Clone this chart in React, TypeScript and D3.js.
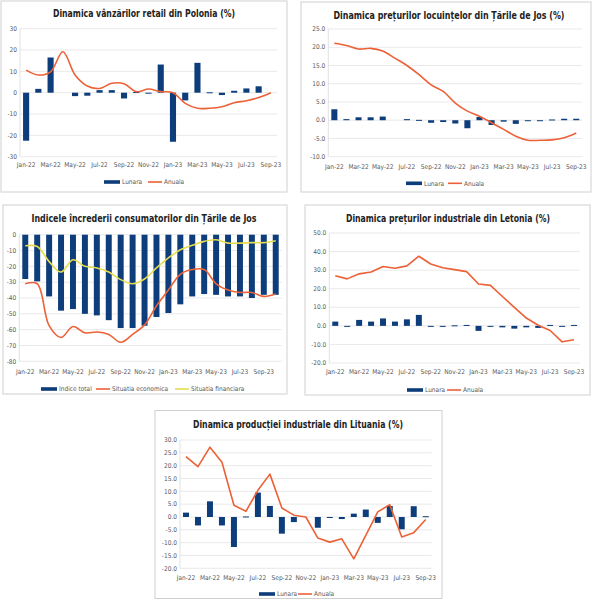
import React, { useEffect, useRef } from 'react';
import * as d3 from 'd3';

// categories
const months21 = ['Jan-22', 'Feb-22', 'Mar-22', 'Apr-22', 'May-22', 'Jun-22', 'Jul-22', 'Aug-22', 'Sep-22', 'Oct-22', 'Nov-22', 'Dec-22',
  'Jan-23', 'Feb-23', 'Mar-23', 'Apr-23', 'May-23', 'Jun-23', 'Jul-23', 'Aug-23', 'Sep-23'];
const months22 = [...months21, 'Oct-23'];

// Polonia - vanzari retail
const plLunara = [-22.5, 1.8, 16.5, 0, -1.6, -1.4, 1.2, 1.2, -2.7, 0.3, -0.3, 13.2, -23, -3.6, 14, 0.2, -1.1, 0.9, 2, 3, 0];
const plAnuala = [10.6, 8.3, 9.8, 19.2, 8.3, 3.1, 2, 4.4, 4.2, 0.5, 1.7, 0.5, 0, -5, -7.3, -7.3, -6.6, -4.7, -3.8, -2.3, 0];

// Tarile de Jos - preturi locuinte
const nlLunara = [3.0, 0.3, 0.8, 0.8, 1.0, 0, 0.3, 0.1, -0.7, -0.5, -0.9, -2.2, 0.9, -1.3, -0.4, -1.0, -0.1, -0.1, 0.2, 0.4, 0.4];
const nlAnuala = [21.1, 20.5, 19.5, 19.7, 19, 17, 15, 12.5, 9.7, 7.9, 4.7, 2.5, 1.1, -0.7, -2.5, -4.4, -5.5, -5.5, -5.4, -4.8, -3.5];

// Tarile de Jos - incredere consumatori
const ccTotal = [-28, -29.5, -39, -48, -47, -50, -51, -54, -59, -59, -57.5, -52, -49.5, -44, -39, -37.5, -38, -39, -39, -40, -38, -38];
const ccEconomica = [-31, -31, -57.5, -65, -58, -62, -61.5, -63, -68, -63, -57, -45, -35, -25, -22, -22, -31, -35, -36.5, -36.5, -39, -37.5];
const ccFinanciara = [-7, -7.5, -17, -23.6, -15.8, -20, -21, -23.6, -28.4, -31, -28, -21, -14.7, -9.5, -6.7, -4.2, -3.2, -5.3, -5.3, -5, -5, -3.8];

// Letonia - preturi industriale
const lvLunara = [2.3, -0.2, 3.2, 2.3, 4, 2.3, 3.5, 5.9, -0.1, -0.1, 0.3, 0.5, -2.7, -0.5, -0.8, -1.5, -0.8, -1.1, 0.5, -0.1, 0.5];
const lvAnuala = [27, 25.3, 28, 29, 32, 31, 32.3, 37.5, 33.3, 31.3, 30.3, 29.2, 22.5, 21.8, 15.8, 10, 4.2, 0.3, -2.5, -8.6, -7.5];

// Lituania - productie industriala
const ltLunara = [1.7, -3.3, 6.1, -3.3, -11.7, 0.2, 9.5, 4.3, -6.5, -2, 0, -4.2, -0.4, -0.8, 1.3, 2.9, -2.3, 4.3, -4.8, 4.2, 0.3];
const ltAnuala = [23.5, 19.6, 27.2, 21.3, 4.6, 2.2, 10.4, 16.7, 3.5, 0.7, 0, -8.2, -9.8, -8.5, -16.3, -7.2, 2, 4.8, -7.8, -6.1, -1];

const NAVY = '#0d3d7a';
const ORANGE = '#ec6136';
const YELLOW = '#e6dc4e';
const GRAY_TEXT = '#595959';
const NARROW = '"Liberation Sans Narrow", "DejaVu Sans Condensed", "Liberation Sans", Arial, sans-serif';

interface LineSeries { name: string; values: number[]; color: string; smooth: boolean }
interface PanelConfig {
  title: string;
  titleX: number; titleY: number; titleW: number;
  box: [number, number, number, number];
  left: number; right: number; top: number; bottom: number;
  yMin: number; yMax: number; yStep: number; decimals: number;
  cats: string[];
  bar: { name: string; values: number[] };
  lines: LineSeries[];
  labelY: number; legendY: number; legendXs: number[];
}

const panels: PanelConfig[] = [
  {
    title: 'Dinamica vânzărilor retail din Polonia (%)',
    titleX: 144, titleY: 16.5, titleW: 182,
    box: [1, 1, 286, 191],
    left: 20, right: 277, top: 28.7, bottom: 156.7,
    yMin: -30, yMax: 30, yStep: 10, decimals: 0,
    cats: months21,
    bar: { name: 'Lunara', values: plLunara },
    lines: [{ name: 'Anuala', values: plAnuala, color: ORANGE, smooth: true }],
    labelY: 166.5, legendY: 182, legendXs: [104, 148],
  },
  {
    title: 'Dinamica prețurilor locuințelor din Țările de Jos (%)',
    titleX: 449, titleY: 18.5, titleW: 231,
    box: [301, 2, 290, 190],
    left: 328.3, right: 582.3, top: 29, bottom: 156.7,
    yMin: -10, yMax: 25, yStep: 5, decimals: 1,
    cats: months21,
    bar: { name: 'Lunara', values: nlLunara },
    lines: [{ name: 'Anuala', values: nlAnuala, color: ORANGE, smooth: true }],
    labelY: 169, legendY: 183.3, legendXs: [406, 448],
  },
  {
    title: 'Indicele încrederii consumatorilor din Țările de Jos',
    titleX: 144, titleY: 222, titleW: 225,
    box: [3, 205, 284, 189],
    left: 19.3, right: 281.7, top: 234.7, bottom: 361.3,
    yMin: -80, yMax: 0, yStep: 10, decimals: 0,
    cats: months22,
    bar: { name: 'Indice total', values: ccTotal },
    lines: [
      { name: 'Situatia economica', values: ccEconomica, color: ORANGE, smooth: true },
      { name: 'Situatia financiara', values: ccFinanciara, color: YELLOW, smooth: true },
    ],
    labelY: 374, legendY: 389, legendXs: [41, 96, 175],
  },
  {
    title: 'Dinamica prețurilor industriale din Letonia (%)',
    titleX: 448, titleY: 222, titleW: 204,
    box: [305, 205, 285, 190],
    left: 329.3, right: 580, top: 233, bottom: 363,
    yMin: -20, yMax: 50, yStep: 10, decimals: 1,
    cats: months21,
    bar: { name: 'Lunara', values: lvLunara },
    lines: [{ name: 'Anuala', values: lvAnuala, color: ORANGE, smooth: false }],
    labelY: 374, legendY: 390, legendXs: [407, 447],
  },
  {
    title: 'Dinamica producției industriale din Lituania (%)',
    titleX: 298, titleY: 427.5, titleW: 210,
    box: [155, 410.5, 287, 188],
    left: 180, right: 431.7, top: 440, bottom: 568.3,
    yMin: -20, yMax: 30, yStep: 5, decimals: 1,
    cats: months21,
    bar: { name: 'Lunara', values: ltLunara },
    lines: [{ name: 'Anuala', values: ltAnuala, color: ORANGE, smooth: false }],
    labelY: 579.5, legendY: 594, legendXs: [259, 298],
  },
];

function drawPanel(svg: d3.Selection<SVGSVGElement, unknown, null, undefined>, p: PanelConfig) {
  const g = svg.append('g');
  const [bx, by, bw, bh] = p.box;

  g.append('rect')
    .attr('x', bx).attr('y', by).attr('width', bw).attr('height', bh)
    .attr('fill', '#fff').attr('stroke', '#d0d0d0').attr('stroke-width', 1);

  // title
  g.append('text')
    .attr('x', p.titleX).attr('y', p.titleY)
    .attr('text-anchor', 'middle')
    .attr('textLength', p.titleW).attr('lengthAdjust', 'spacingAndGlyphs')
    .style('font-family', NARROW).style('font-weight', 'bold').style('font-size', '10.8px')
    .attr('fill', '#222')
    .text(p.title);

  const y = d3.scaleLinear().domain([p.yMin, p.yMax]).range([p.bottom, p.top]);
  const x = d3.scaleBand<string>().domain(p.cats).range([p.left, p.right])
    .paddingInner(0.5).paddingOuter(0.25);
  const cx = (c: string) => (x(c) ?? 0) + x.bandwidth() / 2;

  // grid + y labels
  const ticks = d3.range(p.yMin, p.yMax + p.yStep / 2, p.yStep);
  ticks.forEach(v => {
    g.append('line')
      .attr('x1', p.left).attr('x2', p.right)
      .attr('y1', y(v)).attr('y2', y(v))
      .attr('stroke', '#e3e3e3').attr('stroke-width', 0.8);
    g.append('text')
      .attr('x', p.left - 3).attr('y', y(v) + 2.2)
      .attr('text-anchor', 'end')
      .style('font-family', NARROW).style('font-size', '6.5px')
      .attr('fill', GRAY_TEXT)
      .text(v.toFixed(p.decimals));
  });
  g.append('line')
    .attr('x1', p.left).attr('x2', p.left)
    .attr('y1', p.top).attr('y2', p.bottom)
    .attr('stroke', '#d9d9d9').attr('stroke-width', 0.8);

  // bars
  g.selectAll('rect.bar')
    .data(p.bar.values)
    .enter().append('rect')
    .attr('class', 'bar')
    .attr('x', (_, i) => x(p.cats[i]) ?? 0)
    .attr('width', x.bandwidth())
    .attr('y', v => Math.min(y(v), y(0)))
    .attr('height', v => v === 0 ? 0 : Math.max(1, Math.abs(y(v) - y(0))))
    .attr('fill', NAVY);

  // x labels
  p.cats.forEach((c, i) => {
    if (i % 2 !== 0) return;
    g.append('text')
      .attr('x', cx(c)).attr('y', p.labelY)
      .attr('text-anchor', 'middle')
      .style('font-family', NARROW).style('font-size', '6.5px')
      .attr('fill', GRAY_TEXT)
      .text(c);
  });

  // lines
  p.lines.forEach(s => {
    const line = d3.line<number>()
      .x((_, i) => cx(p.cats[i]))
      .y(v => y(v))
      .curve(s.smooth ? d3.curveCatmullRom.alpha(0.5) : d3.curveLinear);
    g.append('path')
      .datum(s.values)
      .attr('d', line)
      .attr('fill', 'none')
      .attr('stroke', s.color)
      .attr('stroke-width', 1.6)
      .attr('stroke-linejoin', 'round');
  });

  // legend
  const items = [{ name: p.bar.name, color: NAVY, isBar: true }, ...p.lines.map(l => ({ name: l.name, color: l.color, isBar: false }))];
  items.forEach((it, i) => {
    const lx = p.legendXs[i];
    if (it.isBar) {
      g.append('rect')
        .attr('x', lx).attr('y', p.legendY - 1.8)
        .attr('width', 16).attr('height', 3.6)
        .attr('fill', it.color);
    } else {
      g.append('line')
        .attr('x1', lx).attr('x2', lx + 14)
        .attr('y1', p.legendY).attr('y2', p.legendY)
        .attr('stroke', it.color).attr('stroke-width', 1.6);
    }
    g.append('text')
      .attr('x', lx + (it.isBar ? 18 : 16)).attr('y', p.legendY + 2.3)
      .style('font-family', NARROW).style('font-size', '6.5px')
      .attr('fill', GRAY_TEXT)
      .text(it.name);
  });
}

const App: React.FC = () => {
  const svgRef = useRef<SVGSVGElement>(null);

  useEffect(() => {
    const svg = d3.select(svgRef.current!);
    svg.selectAll('*').remove();
    svg.append('rect').attr('width', 592).attr('height', 600).attr('fill', '#fff');
    panels.forEach(p => drawPanel(svg, p));
  }, []);

  return (
    <svg
      ref={svgRef}
      width={592}
      height={600}
      style={{ position: 'absolute', left: 0, top: 0, display: 'block' }}
    />
  );
};

export default App;
